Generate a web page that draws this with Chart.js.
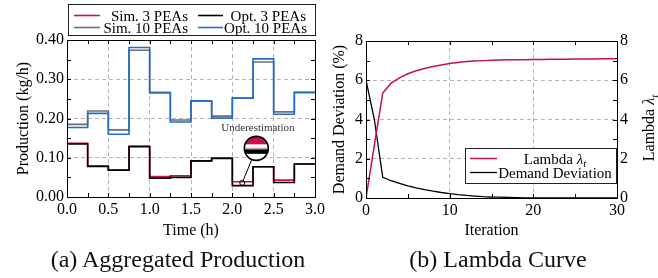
<!DOCTYPE html>
<html>
<head>
<meta charset="utf-8">
<script src="https://cdn.jsdelivr.net/npm/chart.js@4.4.1/dist/chart.umd.min.js"></script>
<style>
  body { margin: 0; width: 658px; height: 278px; background: #fff; position: relative; overflow: hidden;
         font-family: "Liberation Serif", "DejaVu Serif", serif; }
  .box { position: absolute; top: 0; height: 248px; }
  .cap { position: absolute; top: 247px; width: 300px; font-size: 24px; line-height: 24px;
         text-align: center; color: #111; white-space: nowrap; }
</style>
</head>
<body>
<div class="box" style="left:0;width:330px"><canvas id="prod" width="330" height="248"></canvas></div>
<div class="box" style="left:330px;width:328px"><canvas id="lambda" width="328" height="248"></canvas></div>
<div class="cap" style="left:28px">(a) Aggregated Production</div>
<div class="cap" style="left:348px">(b) Lambda Curve</div>
<script>
const SERIF = '"Liberation Serif", "DejaVu Serif", serif';
Chart.defaults.font.family = SERIF;
Chart.defaults.font.size = 16;
Chart.defaults.color = '#000';

// (a) production per 15 min slot, kg/h
const timeH = [0, 0.25, 0.5, 0.75, 1.0, 1.25, 1.5, 1.75, 2.0, 2.25, 2.5, 2.75, 3.0];
const sim3 = [0.137, 0.079, 0.069, 0.130, 0.052, 0.054, 0.092, 0.100, 0.039, 0.077, 0.043, 0.084];
const opt3 = [0.135, 0.078, 0.068, 0.128, 0.048, 0.050, 0.092, 0.098, 0.029, 0.077, 0.037, 0.084];
const sim10 = [0.185, 0.219, 0.171, 0.374, 0.267, 0.196, 0.245, 0.206, 0.252, 0.344, 0.217, 0.267];
const opt10 = [0.177, 0.213, 0.160, 0.381, 0.265, 0.191, 0.245, 0.201, 0.252, 0.352, 0.211, 0.266];

// (b) lambda curve
const iteration = [0, 1, 2, 3, 4, 5, 6, 7, 8, 9, 10, 11, 12, 13, 14, 15, 16, 17, 18, 19, 20,
                   21, 22, 23, 24, 25, 26, 27, 28, 29, 30];
const lambdaT = [0, 2.7, 5.35, 5.85, 6.12, 6.33, 6.48, 6.6, 6.7, 6.78, 6.85, 6.9, 6.95, 6.98, 7.0, 7.02,
                 7.03, 7.04, 7.05, 7.05, 7.06, 7.06, 7.07, 7.07, 7.07, 7.08, 7.08, 7.08, 7.09, 7.09, 7.1];
const demandDev = [6.0, 4.0, 1.05, 0.88, 0.74, 0.62, 0.52, 0.43, 0.35, 0.28, 0.22, 0.17, 0.13, 0.1, 0.07, 0.05,
                   0.04, 0.03, 0.02, 0.01, 0.01, 0, 0, 0, 0, 0, 0, 0, 0, 0, 0];

const RED = '#c8104a';
const GRAY = '#6e6e6e';
const BLUE = '#1f6fc8';
const GRID = '#b4b4b4';

const steps = vals => timeH.map((t, i) => ({ x: t, y: vals[Math.min(i, vals.length - 1)] }));
const pairs = (xs, ys) => xs.map((x, i) => ({ x: x, y: ys[i] }));
const isMul = (v, step) => Math.abs(v / step - Math.round(v / step)) < 1e-6;

// text with a math tail like "Lambda λ_t": italic symbol and subscript
function richText(ctx, text, x, y, align, size) {
  const m = text.match(/^(.*?)(\S)_(\S)$/);
  const parts = m
    ? [{ s: m[1], f: size + 'px ' + SERIF, dy: 0 },
       { s: m[2], f: 'italic ' + size + 'px ' + SERIF, dy: 0 },
       { s: m[3], f: 'italic ' + Math.round(size * 0.7) + 'px ' + SERIF, dy: size * 0.22 }]
    : [{ s: text, f: size + 'px ' + SERIF, dy: 0 }];
  let w = 0;
  parts.forEach(p => { ctx.font = p.f; p.w = ctx.measureText(p.s).width; w += p.w; });
  let cx = align === 'right' ? x - w : align === 'center' ? x - w / 2 : x;
  ctx.textAlign = 'left';
  ctx.textBaseline = 'alphabetic';
  parts.forEach(p => { ctx.font = p.f; ctx.fillText(p.s, cx, y + size * 0.33 + p.dy); cx += p.w; });
}

// pgfplots-like box with inner ticks on every side
const framePlugin = {
  id: 'frame',
  afterDatasetsDraw(chart) {
    const { ctx, chartArea: a } = chart;
    ctx.save();
    ctx.strokeStyle = '#000';
    ctx.lineWidth = 1;
    ctx.beginPath();
    ['x', 'y'].forEach(id => {
      const s = chart.scales[id];
      s.ticks.forEach(t => {
        const p = Math.round(s.getPixelForValue(t.value)) + 0.5;
        if (s.isHorizontal()) {
          ctx.moveTo(p, a.bottom); ctx.lineTo(p, a.bottom - 4);
          ctx.moveTo(p, a.top); ctx.lineTo(p, a.top + 4);
        } else {
          ctx.moveTo(a.left, p); ctx.lineTo(a.left + 4, p);
          ctx.moveTo(a.right, p); ctx.lineTo(a.right - 4, p);
        }
      });
    });
    ctx.stroke();
    ctx.strokeRect(Math.round(a.left) + 0.5, Math.round(a.top) + 0.5,
                   Math.round(a.right - a.left), Math.round(a.bottom - a.top));
    ctx.restore();
  }
};

// boxed legend, items laid out by plugin options
const boxLegend = {
  id: 'boxLegend',
  afterDraw(chart, args, o) {
    if (!o.items) return;
    const ctx = chart.ctx;
    ctx.save();
    ctx.fillStyle = '#fff';
    ctx.fillRect(o.box[0], o.box[1], o.box[2], o.box[3]);
    ctx.strokeStyle = '#222';
    ctx.lineWidth = 1;
    ctx.strokeRect(o.box[0] + 0.5, o.box[1] + 0.5, o.box[2], o.box[3]);
    o.items.forEach(it => {
      const ds = chart.data.datasets[it.ds];
      ctx.strokeStyle = ds.borderColor;
      ctx.lineWidth = ds.borderWidth;
      ctx.beginPath();
      ctx.moveTo(it.line[0], it.y + 0.5);
      ctx.lineTo(it.line[1], it.y + 0.5);
      ctx.stroke();
      ctx.fillStyle = '#000';
      richText(ctx, ds.label, it.tx, it.y + 1, it.align, 15);
    });
    ctx.restore();
  }
};

// right-hand axis title read bottom-to-top like the left one
const sideTitle = {
  id: 'sideTitle',
  afterDraw(chart, args, o) {
    if (!o.text) return;
    const ctx = chart.ctx;
    ctx.save();
    ctx.translate(o.x, o.y);
    ctx.rotate(-Math.PI / 2);
    ctx.fillStyle = '#000';
    richText(ctx, o.text, 0, 0, 'center', 16);
    ctx.restore();
  }
};

// "Underestimation" spy glass on panel (a)
const spyNote = {
  id: 'spyNote',
  afterDatasetsDraw(chart, args, o) {
    if (!o.label) return;
    const { ctx, scales: { x, y } } = chart;
    const lx = x.getPixelForValue(o.lens[0]), ly = y.getPixelForValue(o.lens[1]);
    const sx = x.getPixelForValue(o.spot[0]), sy = y.getPixelForValue(o.spot[1]);
    const r = o.radius;
    ctx.save();
    ctx.font = '11px ' + SERIF;
    ctx.fillStyle = '#333';
    ctx.textAlign = 'center';
    ctx.textBaseline = 'middle';
    ctx.fillText(o.label, x.getPixelForValue(o.labelAt[0]), y.getPixelForValue(o.labelAt[1]));
    // connector
    const dx = lx - sx, dy = ly - sy, d = Math.hypot(dx, dy);
    ctx.strokeStyle = '#000';
    ctx.lineWidth = 1;
    ctx.beginPath();
    ctx.moveTo(sx + dx / d * 2.5, sy + dy / d * 2.5);
    ctx.lineTo(lx - dx / d * r, ly - dy / d * r);
    ctx.stroke();
    ctx.beginPath();
    ctx.arc(sx, sy, 2.5, 0, Math.PI * 2);
    ctx.stroke();
    // lens
    ctx.save();
    ctx.beginPath();
    ctx.arc(lx, ly, r, 0, Math.PI * 2);
    ctx.clip();
    ctx.fillStyle = '#fff';
    ctx.fillRect(lx - r, ly - r, 2 * r, 2 * r);
    ctx.fillStyle = RED;
    ctx.fillRect(lx - r, ly - r, 2 * r, r - 4);
    ctx.fillStyle = '#999';
    ctx.fillRect(lx - r, ly - 0.5, 2 * r, 1);
    ctx.fillStyle = '#000';
    ctx.fillRect(lx - r, ly + 1, 2 * r, 4.5);
    ctx.restore();
    ctx.lineWidth = 1.6;
    ctx.beginPath();
    ctx.arc(lx, ly, r, 0, Math.PI * 2);
    ctx.stroke();
    ctx.restore();
  }
};

function axis(min, max, step, major, digits, extra) {
  return Object.assign({
    type: 'linear', min: min, max: max,
    border: { display: false, dash: [4, 3] },
    grid: {
      drawTicks: false,
      lineWidth: 1,
      color: c => (c.tick && isMul(c.tick.value, major) && c.tick.value > min && c.tick.value < max) ? GRID : 'rgba(0,0,0,0)'
    },
    ticks: {
      stepSize: step, autoSkip: false, maxRotation: 0,
      callback: v => isMul(v, major) ? v.toFixed(digits) : ''
    }
  }, extra);
}

new Chart(document.getElementById('prod'), {
  type: 'line',
  data: {
    datasets: [
      { label: 'Sim. 3 PEAs', data: steps(sim3), borderColor: RED, borderWidth: 1.6, order: 1 },
      { label: 'Opt. 3 PEAs', data: steps(opt3), borderColor: '#000', borderWidth: 1.6, order: 0 },
      { label: 'Sim. 10 PEAs', data: steps(sim10), borderColor: GRAY, borderWidth: 1.6, order: 3 },
      { label: 'Opt. 10 PEAs', data: steps(opt10), borderColor: BLUE, borderWidth: 1.6, order: 2 }
    ].map(d => Object.assign(d, { stepped: 'before', pointRadius: 0, fill: false }))
  },
  options: {
    responsive: false, animation: false, devicePixelRatio: 1,
    layout: { padding: { top: 40, right: 15, left: 0, bottom: 0 } },
    scales: {
      x: axis(0, 3, 0.25, 0.5, 1, {
        afterFit: s => { s.height = 51; },
        title: { display: true, text: 'Time (h)', padding: { top: 0, bottom: 8 } }
      }),
      y: axis(0, 0.4, 0.05, 0.1, 2, {
        afterFit: s => { s.width = 67; },
        title: { display: true, text: 'Production (kg/h)', padding: { top: 14, bottom: 0 } }
      })
    },
    plugins: {
      legend: { display: false },
      tooltip: { enabled: false },
      boxLegend: {
        box: [68, 4, 247, 31],
        items: [
          { ds: 0, line: [74, 100], y: 15, tx: 188, align: 'right' },
          { ds: 1, line: [198, 223], y: 15, tx: 306, align: 'right' },
          { ds: 2, line: [74, 100], y: 27, tx: 188, align: 'right' },
          { ds: 3, line: [198, 223], y: 27, tx: 307, align: 'right' }
        ]
      },
      spyNote: {
        label: 'Underestimation', labelAt: [2.31, 0.175],
        lens: [2.29, 0.124], radius: 12, spot: [2.12, 0.036]
      }
    }
  },
  plugins: [framePlugin, boxLegend, spyNote]
});

new Chart(document.getElementById('lambda'), {
  type: 'line',
  data: {
    datasets: [
      { label: 'Lambda λ_t', data: pairs(iteration, lambdaT), borderColor: RED, borderWidth: 1.5, yAxisID: 'y1', order: 0 },
      { label: 'Demand Deviation', data: pairs(iteration, demandDev), borderColor: '#000', borderWidth: 1.3, yAxisID: 'y', order: 1 }
    ].map(d => Object.assign(d, { pointRadius: 0, fill: false, tension: 0 }))
  },
  options: {
    responsive: false, animation: false, devicePixelRatio: 1,
    layout: { padding: { top: 41, right: 0, left: 0, bottom: 0 } },
    scales: {
      x: axis(0, 30, 5, 10, 0, {
        afterFit: s => { s.height = 50; },
        title: { display: true, text: 'Iteration', padding: { top: 0, bottom: 8 } }
      }),
      y: axis(0, 8, 1, 2, 0, {
        afterFit: s => { s.width = 36; },
        title: { display: true, text: 'Demand Deviation (%)', padding: { top: 0, bottom: 0 } }
      }),
      y1: axis(0, 8, 1, 2, 0, {
        position: 'right',
        afterFit: s => { s.width = 41; },
        grid: { display: false, drawTicks: false }
      })
    },
    plugins: {
      legend: { display: false },
      tooltip: { enabled: false },
      boxLegend: {
        box: [135, 148, 151, 35],
        items: [
          { ds: 0, line: [140, 167], y: 158, tx: 225, align: 'center' },
          { ds: 1, line: [140, 167], y: 172, tx: 225, align: 'center' }
        ]
      },
      sideTitle: { text: 'Lambda λ_t', x: 319, y: 128 }
    }
  },
  plugins: [framePlugin, boxLegend, sideTitle]
});
</script>
</body>
</html>
